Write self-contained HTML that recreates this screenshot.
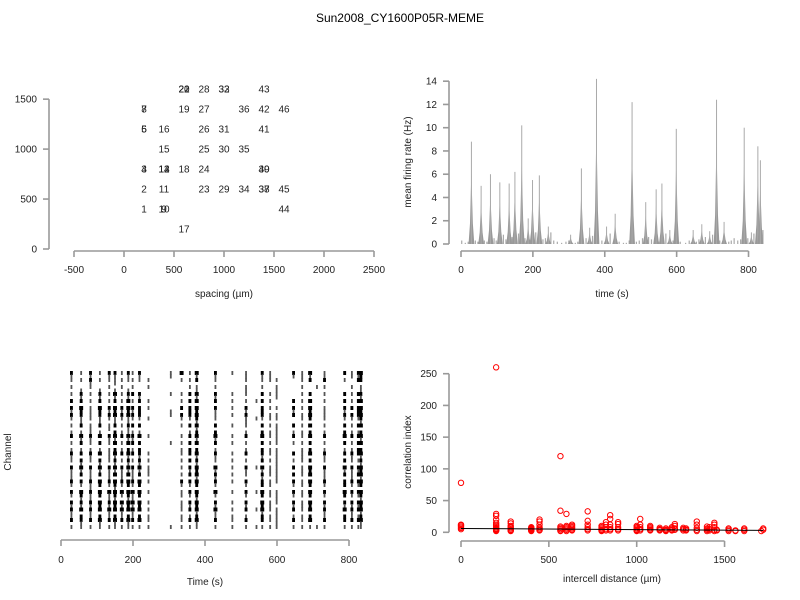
<!DOCTYPE html>
<html><head><meta charset="utf-8"><style>
body{margin:0;background:#fff;}
svg{display:block;font-family:"Liberation Sans",sans-serif;}
</style></head><body>
<svg id="s" width="800" height="600" viewBox="0 0 800 600">
<text x="400" y="22" font-size="12" text-anchor="middle">Sun2008_CY1600P05R-MEME</text>
<g id="p1"></g>
<g id="p2"></g>
<g id="p3"></g>
<g id="p4"></g>
</svg>
<script>
// ---- Panel 1: electrode layout ----
const elecIds=[1,2,3,4,5,6,7,8,9,10,11,12,13,14,15,16,17,18,19,20,21,22,23,24,25,26,27,28,29,30,31,32,33,34,35,36,37,38,39,40,41,42,43,44,45,46];
const elecX=[200,200,200,200,200,200,200,200,400,400,400,400,400,400,400,400,600,600,600,600,600,600,800,800,800,800,800,800,1000,1000,1000,1000,1000,1200,1200,1200,1400,1400,1400,1400,1400,1400,1400,1600,1600,1600];
const elecY=[400,600,800,800,1200,1200,1400,1400,400,400,600,800,800,800,1000,1200,200,800,1400,1600,1600,1600,600,800,1000,1200,1400,1600,600,1000,1200,1600,1600,600,1000,1400,600,600,800,800,1200,1400,1600,400,600,1400];
const p1XTicks=[-500,0,500,1000,1500,2000,2500];
const p1YTicks=[0,500,1000,1500];
// ---- Panel 2: firing rate ----
const peakT=[29,56,82,108,134,150,169,187,199,218,243,305,335,358,377,405,429,476,514,543,559,581,599,646,670,692,711,732,788,808,826,833];
const peakH=[8.8,5.0,6.0,5.3,5.2,6.2,10.2,2.2,5.5,5.9,1.5,0.8,6.5,1.4,14.2,1.5,2.6,12.2,3.6,4.7,5.2,1.2,9.9,1.2,1.7,1.1,12.4,1.9,10.0,1.0,8.4,7.2];
const baseT=[2,12,20,40,47,65,72,92,98,118,125,142,160,178,208,228,235,250,258,268,280,292,300,318,325,348,366,392,415,440,452,460,468,488,496,505,522,530,550,570,590,610,625,635,655,662,680,700,720,745,752,760,770,778,798,815,840];
const baseH=[0.3,0.1,0.2,0.3,0.2,0.3,0.2,0.5,0.3,0.8,0.4,0.6,0.9,0.5,1.0,0.4,0.5,1.0,0.3,0.2,0.1,0.2,0.3,0.1,0.2,0.5,0.7,0.3,0.9,0.2,0.1,0.1,0.3,0.2,0.3,0.5,0.6,0.4,0.2,0.9,0.3,0.2,0.1,0.3,0.2,0.4,0.6,0.8,0.3,0.2,0.3,0.5,0.3,0.4,0.5,0.9,1.2];
const p2XTicks=[0,200,400,600,800];
const p2YTicks=[0,2,4,6,8,10,12,14];
// ---- Panel 3: raster ----
const burstT=[29,56,82,108,134,150,169,187,199,218,243,305,335,358,377,405,429,476,514,543,559,581,599,646,670,692,711,732,788,808,826,833];
const rowCounts=[
"21212212120131302110210213012123","10101101010100101010110111010112","11211111111011201010111012021022",
"00100100000000000000000000000000","10101010101001101010101010110101","01010101000000100010001000000001",
"12121312220112302110211012012122","01010101010000101000001000000001","22121213121012302111210213012123",
"00000000000000000000000000000000","23132323221022302120211213012223","12121212120102201010200102011022",
"22122323220122301120211213012223","11111111111011201011111012011112","01010101000000100010000000000001",
"12121212220012302110211213012123","00101001000000100000001000000000","11110211110001202010211112012112",
"23232323231012303120311213023223","01101101100000101000001000000001","12121313220112302110211112012123",
"00000000000000000000000000000000","11111212120012201010211012011122","22231323221012302120211213022223",
"10101101010000101000101010010101","12121212121012201110211112012112","01010101010000100000001000000001",
"23232323231012303121311213023223","11111111111001201010111012011112","12121313121012302110211213012123",
"10101010100000101000101000010101","22232323231022302120211213022223","11121212120011201010210112012112",
"00100100000000000000000000000000","23233333331012303121311213023223","12121212120011201010211112012112",
"01101101100000100000001000000001","22232333331012302120311213022223","11121212120011201010210112011112",
"23233333331012303121311213023223","10101010100000101000101000010101","12121212121011201110211112012112",
"22232323231012302120211213022223","01010101000000100000001000000001","11111111111111101111111111111111",
"00000000000000000000000000000000"];
const p3XTicks=[0,200,400,600,800];
// ---- Panel 4: correlation vs distance ----
const colDist=[0,200,283,400,447,566,600,632,721,800,825,849,894,1000,1020,1077,1131,1166,1200,1217,1265,1281,1342,1400,1414,1442,1456,1523,1562,1612,1709,1720];
const colVals=[[5,7,9,11,12,78],[260,29,26,20,15,12,10,8,6,5,4,3,2],[17,14,10,8,6,4,3,2],[8,7,6,5,4,3,2],[20,17,12,8,6,4,3],[120,34,9,7,5,3,2],[29,10,8,6,4,2],[12,10,8,6,4,3],[33,18,12,8,5,3],[10,8,6,4,3,2],[16,12,8,5,3],[27,21,12,8,5,3],[16,13,8,5,3],[10,8,6,4,3,2],[21,12,8,5,3],[10,8,6,4,3],[7,5,4,3],[6,4,3,2],[8,6,4,3],[13,10,6,4],[7,5,3],[6,4,3],[17,12,7,4,2],[9,6,4,2],[8,5,3],[15,12,8,4,2],[4,3],[6,4,2],[3,2],[6,4,2],[2],[6,4]];
const fitX=[0,1720];
const fitY=[6,3];
const p4XTicks=[0,500,1000,1500];
const p4YTicks=[0,50,100,150,200,250];

const NS="http://www.w3.org/2000/svg";
function mk(parent,tag,attrs,text){const e=document.createElementNS(NS,tag);for(const k in attrs)e.setAttribute(k,attrs[k]);if(text!==undefined)e.textContent=text;parent.appendChild(e);return e;}
const AX="#999";
function xAxis(g,ticks,sx,y,ly){
  const l=mk(g,'line',{x1:sx(ticks[0]),x2:sx(ticks[ticks.length-1]),y1:y,y2:y,stroke:AX,'stroke-width':1.6});
  
  
  ticks.forEach(t=>{
    const tk=mk(g,'line',{x1:sx(t),x2:sx(t),y1:y,y2:y+6,stroke:AX,'stroke-width':1.6});
    
    
    const tl=mk(g,'text',{x:sx(t),y:ly,'font-size':10,'text-anchor':'middle',fill:'#222'},String(t));
    
    
  });
}
function yAxis(g,ticks,sy,x){
  const l=mk(g,'line',{x1:x,x2:x,y1:sy(ticks[0]),y2:sy(ticks[ticks.length-1]),stroke:AX,'stroke-width':1.6});
  
  
  ticks.forEach(t=>{
    const tk=mk(g,'line',{x1:x-6,x2:x,y1:sy(t),y2:sy(t),stroke:AX,'stroke-width':1.6});
    
    
    const tl=mk(g,'text',{x:x-12,y:sy(t)+3.5,'font-size':10,'text-anchor':'end',fill:'#222'},String(t));
    
    
  });
}
function label(g,x,y,txt,rot,name){
  const t=mk(g,'text',{x:x,y:y,'font-size':10,'text-anchor':'middle',fill:'#222'},txt);
  if(rot)t.setAttribute('transform','rotate(-90 '+x+' '+y+')');
  
  
}
// Panel 1
(function(){
  const g=document.getElementById('p1');
  const sx=v=>124+v*0.1, sy=v=>249-v*0.0999;
  xAxis(g,p1XTicks,sx,251,273);
  yAxis(g,p1YTicks,sy,49);
  elecIds.forEach((id,i)=>{
    const t=mk(g,'text',{x:sx(elecX[i]),y:sy(elecY[i])+3.5,'font-size':10,'text-anchor':'middle',fill:'#222'},String(id));
    
    
  });
  label(g,224,297,'spacing (µm)',false,'x-axis-title');
})();
// Panel 2
(function(){
  const g=document.getElementById('p2');
  const sx=v=>461+v*0.3594, sy=v=>244-v*11.63;
  xAxis(g,p2XTicks,sx,251,273);
  yAxis(g,p2YTicks,sy,449);
  baseT.forEach((t,i)=>{
    const r=mk(g,'rect',{x:sx(t)-0.6,y:sy(baseH[i]),width:1.2,height:sy(0)-sy(baseH[i]),fill:'#aaa'});
    
    
  });
  peakT.forEach((t,i)=>{
    const h=peakH[i];
    const p=mk(g,'polygon',{points:[sx(t-8)+','+sy(0),sx(t-4)+','+sy(h*0.2),sx(t-1)+','+sy(h*0.6),sx(t)+','+sy(h*0.8),sx(t+1)+','+sy(h*0.55),sx(t+4)+','+sy(h*0.2),sx(t+8)+','+sy(0)].join(' '),fill:'#999'});
    
    
    const l=mk(g,'line',{x1:sx(t),x2:sx(t),y1:sy(0),y2:sy(h),stroke:'#aaa','stroke-width':1});
    
    
  });
  label(g,612,297,'time (s)',false,'x-axis-title');
  label(g,411,162,'mean firing rate (Hz)',true,'y-axis-title');
})();
// Panel 3
(function(){
  const g=document.getElementById('p3');
  const sx=v=>61+v*0.36, sy=i=>373+i*3.5;
  xAxis(g,p3XTicks,sx,540,563);
  rowCounts.forEach((row,i)=>{
    for(let b=0;b<row.length;b++){
      const c=+row[b];
      for(let k=0;k<c;k++){
        const t=burstT[b]+(k-(c-1)/2)*3;
        const r=mk(g,'rect',{x:sx(t)-0.9,y:sy(i)-2,width:1.8,height:4,fill:c>1?'#000':'#555'});
        
        
      }
    }
  });
  label(g,205,585,'Time (s)',false,'x-axis-title');
  label(g,11,452,'Channel',true,'y-axis-title');
})();
// Panel 4
(function(){
  const g=document.getElementById('p4');
  const sx=v=>461+v*0.1757, sy=v=>532.3-v*0.6344;
  xAxis(g,p4XTicks,sx,541,563);
  yAxis(g,p4YTicks,sy,449);
  colDist.forEach((d,i)=>{
    colVals[i].forEach(v=>{
      const c=mk(g,'circle',{cx:sx(d),cy:sy(v),r:2.7,fill:'none',stroke:'#f00','stroke-width':1});
      
      
    });
  });
  const l=mk(g,'line',{x1:sx(fitX[0]),y1:sy(fitY[0]),x2:sx(fitX[1]),y2:sy(fitY[1]),stroke:'#000','stroke-width':1});
  
  
  label(g,612,582,'intercell distance (µm)',false,'x-axis-title');
  label(g,411,452,'correlation index',true,'y-axis-title');
})();
</script>
</body></html>
